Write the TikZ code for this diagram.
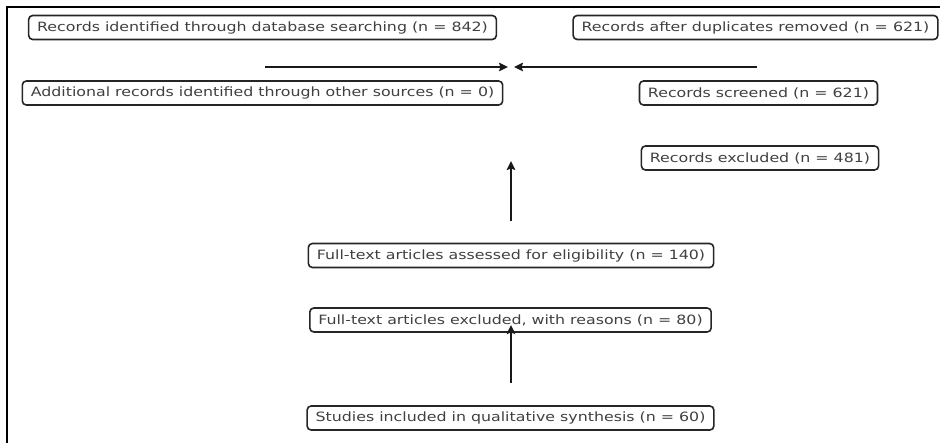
\documentclass[tikz,border=0pt]{standalone}
\usepackage{graphicx}
\usepackage{fontspec}
\setmainfont{DejaVu Sans}
\usetikzlibrary{arrows.meta}
\newcommand{\widetext}[1]{\scalebox{1.235}[1]{#1}}
\tikzset{
  stagebox/.style={draw=black!85, line width=1.6pt, rounded corners=4pt,
    text=black!75, font=\fontsize{12.8}{15}\selectfont,
    inner xsep=8.5pt, inner ysep=0pt, minimum height=24pt, fill=white},
  flowarrow/.style={line width=2.4pt, draw=black!90,
    -{Stealth[length=9pt,width=8.5pt,inset=1.5pt]}},
  frameline/.style={line width=1.4pt, draw=black}
}
\begin{document}
\begin{tikzpicture}[x=1pt,y=-1pt]
  \useasboundingbox (0,0) rectangle (940,443);
  % partial frame along the top and left edges
  \draw[frameline] (7,443) -- (7,7) -- (940,7);

  % stage boxes
  \node[stagebox] (db)   at (262.5,27.5) {\widetext{Records identified through database searching (n = 842)}};
  \node[stagebox] (dup)  at (755.5,27.5) {\widetext{Records after duplicates removed (n = 621)}};
  \node[stagebox] (oth)  at (262.5,93)   {\widetext{Additional records identified through other sources (n = 0)}};
  \node[stagebox] (scr)  at (758.5,93)   {\widetext{Records screened (n = 621)}};
  \node[stagebox] (exc)  at (760,158)    {\widetext{Records excluded (n = 481)}};
  \node[stagebox] (full) at (511,255.5)  {\widetext{Full-text articles assessed for eligibility (n = 140)}};
  \node[stagebox] (fexc) at (510.5,320)  {\widetext{Full-text articles excluded, with reasons (n = 80)}};
  \node[stagebox] (incl) at (510.5,418)  {\widetext{Studies included in qualitative synthesis (n = 60)}};

  % arrow end points
  \coordinate (hl0) at (265,67);
  \coordinate (hl1) at (508,67);
  \coordinate (hr0) at (757,67);
  \coordinate (hr1) at (514,67);
  \coordinate (v10) at (511,221);
  \coordinate (v11) at (511,161);
  \coordinate (v20) at (511,383);
  \coordinate (v21) at (511,325);

  % arrows
  \draw[flowarrow] (hl0) -- (hl1);
  \draw[flowarrow] (hr0) -- (hr1);
  \draw[flowarrow] (v10) -- (v11);
  \draw[flowarrow] (v20) -- (v21);
\end{tikzpicture}
\end{document}
